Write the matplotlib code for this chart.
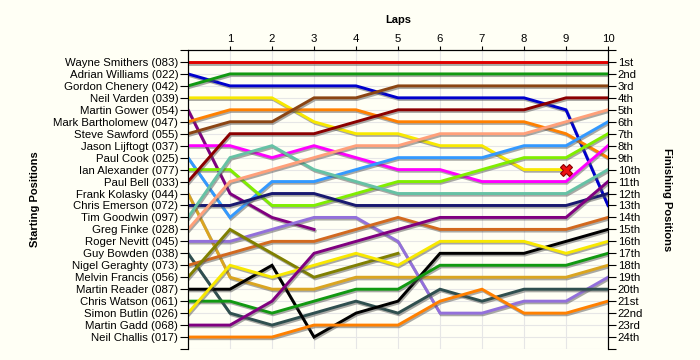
import numpy as np
import matplotlib.pyplot as plt
import matplotlib.patheffects as pe

plt.rcParams['font.family'] = ['Liberation Sans', 'DejaVu Sans']

laps = list(range(11))
nan = np.nan

drivers = ["Wayne Smithers (083)", "Adrian Williams (022)", "Gordon Chenery (042)",
           "Neil Varden (039)", "Martin Gower (054)", "Mark Bartholomew (047)",
           "Steve Sawford (055)", "Jason Lijftogt (037)", "Paul Cook (025)",
           "Ian Alexander (077)", "Paul Bell (033)", "Frank Kolasky (044)",
           "Chris Emerson (072)", "Tim Goodwin (097)", "Greg Finke (028)",
           "Roger Nevitt (045)", "Guy Bowden (038)", "Nigel Geraghty (073)",
           "Melvin Francis (056)", "Martin Reader (087)", "Chris Watson (061)",
           "Simon Butlin (026)", "Martin Gadd (068)", "Neil Challis (017)"]

# position at each lap (0..10), nan = retired
positions = [
    [1, 1, 1, 1, 1, 1, 1, 1, 1, 1, 1],
    [2, 3, 3, 3, 3, 4, 4, 4, 4, 5, 13],
    [3, 2, 2, 2, 2, 2, 2, 2, 2, 2, 2],
    [4, 4, 4, 6, 7, 7, 8, 8, 10, 10, nan],
    [5, 12, 14, 15, nan, nan, nan, nan, nan, nan, nan],
    [6, 5, 5, 5, 5, 6, 6, 6, 6, 7, 9],
    [7, 6, 6, 4, 4, 3, 3, 3, 3, 3, 3],
    [8, 8, 9, 8, 9, 10, 10, 11, 11, 11, 8],
    [9, 14, 11, 11, 10, 9, 9, 9, 8, 8, 6],
    [10, 10, 13, 13, 12, 11, 11, 10, 9, 9, 7],
    [11, 7, 7, 7, 6, 5, 5, 5, 5, 4, 4],
    [12, 19, 20, 20, 19, 19, 19, 19, 19, 19, 18],
    [13, 13, 12, 12, 13, 13, 13, 13, 13, 13, 12],
    [14, 9, 8, 10, 11, 12, 12, 12, 12, 12, 10],
    [15, 11, 10, 9, 8, 8, 7, 7, 7, 6, 5],
    [16, 16, 15, 14, 14, 16, 22, 22, 21, 21, 19],
    [17, 22, 23, 22, 21, 22, 20, 21, 20, 20, 20],
    [18, 17, 16, 16, 15, 14, 15, 15, 15, 15, 14],
    [19, 15, 17, 19, 18, 17, nan, nan, nan, nan, nan],
    [20, 20, 18, 24, 22, 21, 17, 17, 17, 16, 15],
    [21, 21, 22, 21, 20, 20, 18, 18, 18, 18, 17],
    [22, 18, 19, 18, 17, 18, 16, 16, 16, 17, 16],
    [23, 23, 21, 17, 16, 15, 14, 14, 14, 14, 11],
    [24, 24, 24, 23, 23, 23, 21, 20, 22, 22, 21],
]

colors = ['#e00000', '#0000cc', '#119911', '#f8e800', '#800080', '#ff8000',
          '#8b4513', '#ff00ff', '#3399ff', '#80ee00', '#8b0000', '#daa520',
          '#191970', '#66c2a5', '#ffa07a', '#9370db', '#2f4f4f', '#d2691e',
          '#808000', '#000000', '#119911', '#f8e800', '#800080', '#ff8000']

finish_labels = ["1st", "2nd", "3rd"] + [str(i) + "th" for i in range(4, 21)] + ["21st", "22nd", "23rd", "24th"]

# retirement marker (Neil Varden, lap 9)
retired_lap = [9]
retired_pos = [10]

bg = '#fffff5'
fig = plt.figure(figsize=(7, 3.6), dpi=100, facecolor=bg)
ax = fig.add_axes([188 / 700, 1 - 349 / 360, 420 / 700, 299 / 360])
ax.set_facecolor(bg)

for i in range(len(drivers)):
    ax.plot(laps, positions[i], color=colors[i], lw=2.1, solid_joinstyle='miter',
            path_effects=[pe.SimpleLineShadow(offset=(0.8, -1.2), shadow_color='#555555', alpha=0.5),
                          pe.Normal()], zorder=3)

ax.plot(retired_lap, retired_pos, marker='X', ls='none', ms=9, color='#ee1111',
        mec='#880000', mew=0.8, zorder=5)

ax.set_xlim(0, 10)
ax.set_ylim(25, 0)

ax.xaxis.tick_top()
ax.set_xticks(range(1, 11))
ax.set_xticklabels([str(i) for i in range(1, 11)], fontsize=8.2)
ax.tick_params(axis='x', length=3, pad=1, color='black')
ax.set_xlabel("Laps", fontsize=8, fontweight='bold', labelpad=8)
ax.xaxis.set_label_position('top')

ax.set_yticks(range(0, 26))
ax.set_yticklabels([""] + drivers + [""], fontsize=8.2)
ax.tick_params(axis='y', length=6, pad=1)
ax.set_ylabel("Starting Positions", fontsize=8, fontweight='bold', labelpad=10)

ax.grid(True, color='#e6e6e6', lw=0.8, zorder=0)
ax.set_axisbelow(True)
ax.spines['bottom'].set_visible(False)

ax2 = ax.twinx()
ax2.set_ylim(25, 0)
ax2.set_yticks(range(0, 26))
ax2.set_yticklabels([""] + finish_labels + [""], fontsize=8.2)
ax2.tick_params(axis='y', length=6, pad=1)
ax2.set_ylabel("Finishing Positions", fontsize=8, fontweight='bold', rotation=-90, labelpad=21)
ax2.spines['bottom'].set_visible(False)

fig.savefig("out.png", dpi=100, facecolor=bg)
